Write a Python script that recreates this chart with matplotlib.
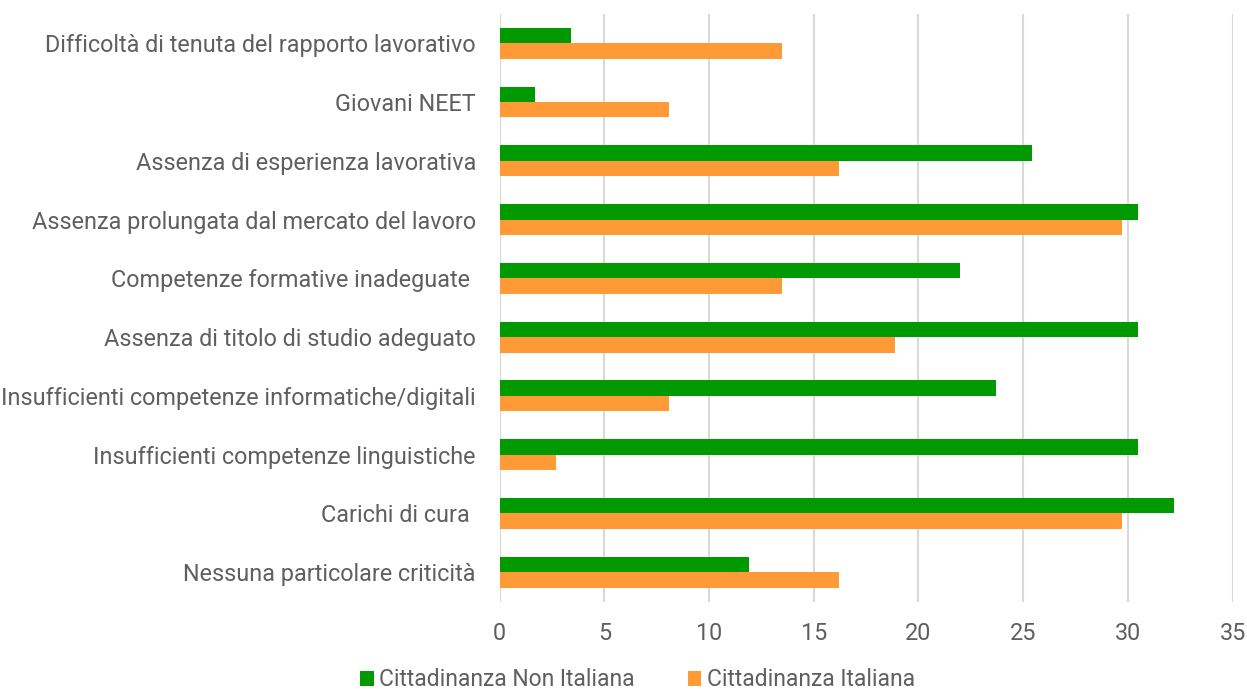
import numpy as np
import matplotlib
matplotlib.use("Agg")
import matplotlib.pyplot as plt
from matplotlib.patches import Patch

categories = [
    "Difficoltà di tenuta del rapporto lavorativo",
    "Giovani NEET",
    "Assenza di esperienza lavorativa",
    "Assenza prolungata dal mercato del lavoro",
    "Competenze formative inadeguate ",
    "Assenza di titolo di studio adeguato",
    "Insufficienti competenze informatiche/digitali",
    "Insufficienti competenze linguistiche",
    "Carichi di cura ",
    "Nessuna particolare criticità",
]
non_italiana = [3.4, 1.7, 25.4, 30.5, 22.0, 30.5, 23.7, 30.5, 32.2, 11.9]
italiana = [13.5, 8.1, 16.2, 29.7, 13.5, 18.9, 8.1, 2.7, 29.7, 16.2]
series_labels = ["Cittadinanza Non Italiana", "Cittadinanza Italiana"]
x_ticks = [0, 5, 10, 15, 20, 25, 30, 35]

green = "#009900"
orange = "#FF9A36"
text_color = "#5f5f5f"

plt.rcParams["font.family"] = ["Roboto", "DejaVu Sans"]

fig = plt.figure(figsize=(12.47, 6.93), dpi=100)
ax = fig.add_axes([0.4006, 0.1318, 0.9885 - 0.4006, 0.98 - 0.1318])

y = np.arange(len(categories))
h = 0.263
ax.barh(y - h / 2, non_italiana, height=h, color=green, zorder=3)
ax.barh(y + h / 2, italiana, height=h, color=orange, zorder=3)

ax.set_ylim(len(categories) - 0.5, -0.5)
ax.set_xlim(0, 35)
ax.set_xticks(x_ticks)
ax.set_xticklabels([str(t) for t in x_ticks])
ax.set_yticks(y)
ax.set_yticklabels(categories)

ax.grid(axis="x", color="#d9d9d9", linewidth=1.5, zorder=0)
ax.grid(axis="y", visible=False)
for s in ax.spines.values():
    s.set_visible(False)
ax.tick_params(axis="both", length=0, labelsize=16.8, labelcolor=text_color)
ax.tick_params(axis="y", pad=17)
ax.tick_params(axis="x", pad=15)

handles = [Patch(facecolor=green), Patch(facecolor=orange)]
fig.legend(handles, series_labels, loc="center",
           bbox_to_anchor=(637.5 / 1247, 1 - 680 / 693), ncol=2,
           frameon=False, fontsize=16.5, labelcolor=text_color,
           handlelength=0.6, handleheight=0.6, handletextpad=0.25,
           columnspacing=2.3)

fig.savefig("out.png", dpi=100)
